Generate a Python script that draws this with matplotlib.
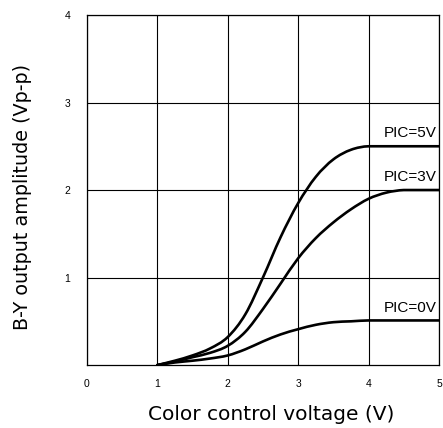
import matplotlib
matplotlib.use("Agg")
import matplotlib.pyplot as plt
from matplotlib.path import Path
from matplotlib.patches import PathPatch

plt.rcParams['font.family'] = ['Liberation Sans', 'DejaVu Sans']

x5 = [1.0, 1.25, 1.5, 1.75, 2.0, 2.25, 2.5, 2.75, 3.0, 3.25, 3.5, 3.75, 4.0, 5.0]
y5 = [0.0, 0.05, 0.11, 0.19, 0.32, 0.58, 1.0, 1.46, 1.85, 2.15, 2.35, 2.46, 2.5, 2.5]

x3 = [1.0, 1.25, 1.5, 1.75, 2.0, 2.25, 2.5, 2.75, 3.0, 3.25, 3.5, 3.75, 4.0, 4.25, 4.5, 5.0]
y3 = [0.0, 0.04, 0.09, 0.14, 0.22, 0.38, 0.64, 0.93, 1.22, 1.45, 1.63, 1.78, 1.9, 1.97, 2.0, 2.0]

x0 = [1.0, 1.25, 1.5, 1.75, 2.0, 2.25, 2.5, 2.75, 3.0, 3.25, 3.5, 3.75, 4.0, 5.0]
y0 = [0.0, 0.03, 0.05, 0.075, 0.11, 0.18, 0.27, 0.35, 0.41, 0.46, 0.49, 0.5, 0.51, 0.51]

labels = ["PIC=5V", "PIC=3V", "PIC=0V"]
label_y = [2.5, 2.0, 0.5]

xticks = [0, 1, 2, 3, 4, 5]
yticks = [1, 2, 3, 4]


def smooth_path(xs, ys):
    # cubic Hermite (Catmull-Rom style tangents) through the read points
    pts = list(zip(xs, ys))
    verts = [pts[0]]
    codes = [Path.MOVETO]
    n = len(pts)
    for i in range(n - 1):
        p0 = pts[i - 1] if i > 0 else pts[i]
        p1 = pts[i]
        p2 = pts[i + 1]
        p3 = pts[i + 2] if i + 2 < n else pts[i + 1]
        d = p2[0] - p1[0]
        m1 = (p2[1] - p0[1]) / (p2[0] - p0[0])
        m2 = (p3[1] - p1[1]) / (p3[0] - p1[0])
        if p2[1] == p1[1]:
            m1 = m2 = 0.0
        c1 = (p1[0] + d / 3, p1[1] + m1 * d / 3)
        c2 = (p2[0] - d / 3, p2[1] - m2 * d / 3)
        verts += [c1, c2, p2]
        codes += [Path.CURVE4] * 3
    return Path(verts, codes)


fig = plt.figure(figsize=(4.43, 4.28), dpi=100)
ax = fig.add_axes([0.196, 0.147, 0.795, 0.818])

ax.set_xlim(0, 5)
ax.set_ylim(0, 4)
ax.set_xticks(xticks)
ax.set_yticks(yticks)
ax.set_xticklabels([str(t) for t in xticks], fontsize=7.5)
ax.set_yticklabels([str(t) for t in yticks], fontsize=7.5)
ax.tick_params(length=0)
ax.tick_params(axis='x', pad=10)
ax.tick_params(axis='y', pad=12)
ax.grid(True, color='black', linewidth=0.8)
for s in ax.spines.values():
    s.set_linewidth(0.9)

for xs, ys in [(x5, y5), (x3, y3), (x0, y0)]:
    ax.add_patch(PathPatch(smooth_path(xs, ys), facecolor='none', edgecolor='black',
                           linewidth=1.9, capstyle='round', joinstyle='round'))

for lab, ly in zip(labels, label_y):
    ax.text(4.97, ly + 0.07, lab, fontsize=11, ha='right', va='bottom')

ax.set_xlabel("Color control voltage (V)", fontsize=14.5, family=['DejaVu Sans'])
ax.set_ylabel("B-Y output amplitude (Vp-p)", fontsize=13.8, family=['DejaVu Sans'])
ax.xaxis.set_label_coords(0.523, -0.115)
ax.yaxis.set_label_coords(-0.157, 0.48)

fig.savefig("out.png", dpi=100)
